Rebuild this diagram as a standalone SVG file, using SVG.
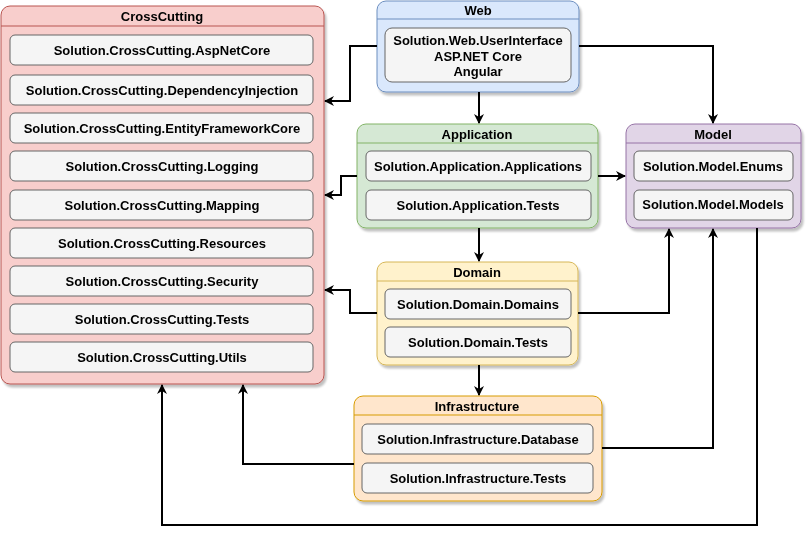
<svg xmlns="http://www.w3.org/2000/svg" width="807" height="536" viewBox="0 0 807 536">
<defs>
<filter id="sh" x="-10%" y="-10%" width="130%" height="130%">
<feGaussianBlur in="SourceAlpha" stdDeviation="1.2"/>
<feOffset dx="2" dy="3" result="o"/>
<feComponentTransfer><feFuncA type="linear" slope="0.25"/></feComponentTransfer>
<feMerge><feMergeNode/><feMergeNode in="SourceGraphic"/></feMerge>
</filter>
<marker id="ar" viewBox="0 0 10 10" refX="9" refY="5" markerWidth="10" markerHeight="10" markerUnits="userSpaceOnUse" orient="auto">
<path d="M0,0 L10,5 L0,10 L3,5 Z" fill="#000"/>
</marker>
</defs>
<style>
text{font-family:"Liberation Sans",Arial,sans-serif;font-size:13px;font-weight:bold;fill:#000;text-anchor:middle;dominant-baseline:central}
.item{fill:#f5f5f5;stroke:#666666;stroke-width:1}
.c{fill:none;stroke:#000;stroke-width:2;marker-end:url(#ar)}
</style>

<g id="crosscutting" filter="url(#sh)">
<rect x="1" y="6" width="323" height="378" rx="9" fill="#f8cecc" stroke="#b85450"/>
<line x1="1" y1="26" x2="324" y2="26" stroke="#b85450"/>
<text x="162" y="16">CrossCutting</text>
<rect class="item" x="10" y="35" width="303" height="30" rx="5"/>
<text x="162" y="50">Solution.CrossCutting.AspNetCore</text>
<rect class="item" x="10" y="75" width="303" height="30" rx="5"/>
<text x="162" y="90">Solution.CrossCutting.DependencyInjection</text>
<rect class="item" x="10" y="113" width="303" height="30" rx="5"/>
<text x="162" y="128">Solution.CrossCutting.EntityFrameworkCore</text>
<rect class="item" x="10" y="151" width="303" height="30" rx="5"/>
<text x="162" y="166">Solution.CrossCutting.Logging</text>
<rect class="item" x="10" y="190" width="303" height="30" rx="5"/>
<text x="162" y="205">Solution.CrossCutting.Mapping</text>
<rect class="item" x="10" y="228" width="303" height="30" rx="5"/>
<text x="162" y="243">Solution.CrossCutting.Resources</text>
<rect class="item" x="10" y="266" width="303" height="30" rx="5"/>
<text x="162" y="281">Solution.CrossCutting.Security</text>
<rect class="item" x="10" y="304" width="303" height="30" rx="5"/>
<text x="162" y="319">Solution.CrossCutting.Tests</text>
<rect class="item" x="10" y="342" width="303" height="30" rx="5"/>
<text x="162" y="357">Solution.CrossCutting.Utils</text>
</g>

<g id="web" filter="url(#sh)">
<rect x="377" y="1" width="202" height="91" rx="9" fill="#dae8fc" stroke="#6c8ebf"/>
<line x1="377" y1="19" x2="579" y2="19" stroke="#6c8ebf"/>
<text x="478" y="10">Web</text>
<rect class="item" x="385" y="28" width="186" height="54" rx="7"/>
<text x="478" y="40">Solution.Web.UserInterface</text>
<text x="478" y="56">ASP.NET Core</text>
<text x="478" y="71">Angular</text>
</g>

<g id="application" filter="url(#sh)">
<rect x="357" y="124" width="241" height="104" rx="9" fill="#d5e8d4" stroke="#82b366"/>
<line x1="357" y1="143" x2="598" y2="143" stroke="#82b366"/>
<text x="477" y="134">Application</text>
<rect class="item" x="366" y="151" width="225" height="30" rx="5"/>
<text x="478" y="166">Solution.Application.Applications</text>
<rect class="item" x="366" y="190" width="225" height="30" rx="5"/>
<text x="478" y="205">Solution.Application.Tests</text>
</g>

<g id="model" filter="url(#sh)">
<rect x="626" y="124" width="175" height="104" rx="9" fill="#e1d5e7" stroke="#9673a6"/>
<line x1="626" y1="143" x2="801" y2="143" stroke="#9673a6"/>
<text x="713" y="134">Model</text>
<rect class="item" x="634" y="151" width="159" height="30" rx="5"/>
<text x="713" y="166">Solution.Model.Enums</text>
<rect class="item" x="634" y="190" width="159" height="30" rx="5"/>
<text x="713" y="204">Solution.Model.Models</text>
</g>

<g id="domain" filter="url(#sh)">
<rect x="377" y="262" width="201" height="103" rx="9" fill="#fff2cc" stroke="#d6b656"/>
<line x1="377" y1="281" x2="578" y2="281" stroke="#d6b656"/>
<text x="477" y="272">Domain</text>
<rect class="item" x="385" y="289" width="186" height="30" rx="5"/>
<text x="478" y="304">Solution.Domain.Domains</text>
<rect class="item" x="385" y="327" width="186" height="30" rx="5"/>
<text x="478" y="342">Solution.Domain.Tests</text>
</g>

<g id="infrastructure" filter="url(#sh)">
<rect x="354" y="396" width="248" height="105" rx="9" fill="#ffe6cc" stroke="#d79b00"/>
<line x1="354" y1="415" x2="602" y2="415" stroke="#d79b00"/>
<text x="477" y="406">Infrastructure</text>
<rect class="item" x="362" y="424" width="231" height="30" rx="5"/>
<text x="478" y="439">Solution.Infrastructure.Database</text>
<rect class="item" x="362" y="463" width="231" height="30" rx="5"/>
<text x="478" y="478">Solution.Infrastructure.Tests</text>
</g>

<g id="connectors">
<path class="c" d="M377,46 H350 V101 H325"/>
<path class="c" d="M479,92 V123"/>
<path class="c" d="M579,46 H713 V123"/>
<path class="c" d="M357,176 H341 V195 H325"/>
<path class="c" d="M598,176 H625"/>
<path class="c" d="M479,228 V261"/>
<path class="c" d="M377,313 H350 V290 H325"/>
<path class="c" d="M578,313 H669 V229"/>
<path class="c" d="M479,365 V395"/>
<path class="c" d="M602,448 H713 V229"/>
<path class="c" d="M354,464 H243 V385"/>
<path class="c" d="M757,228 V525 H162 V385"/>
</g>
</svg>
